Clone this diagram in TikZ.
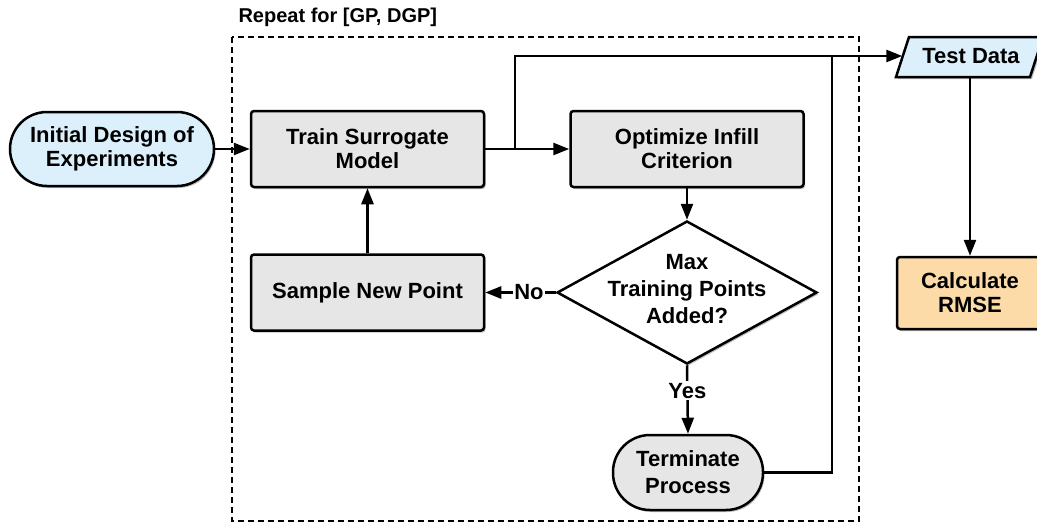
\documentclass[tikz,border=0pt]{standalone}
\usepackage{fontspec}
\setmainfont{Liberation Sans}
\usetikzlibrary{arrows.meta,shadows,shapes.geometric}
\definecolor{boxgray}{HTML}{E6E6E6}
\definecolor{lblue}{HTML}{DCF0FC}
\definecolor{lorange}{HTML}{FCDBA8}
\tikzset{
  every node/.style={font=\bfseries\fontsize{22}{24}\selectfont, align=center, text=black},
  shad/.style={drop shadow={shadow xshift=1.5pt, shadow yshift=-2pt, opacity=0.25, fill=black}},
  procbox/.style={draw, line width=2.5pt, rounded corners=3pt, fill=boxgray, minimum width=233pt, minimum height=76pt, inner sep=0pt, shad},
  termbox/.style={draw, line width=2.5pt, rounded corners=37pt, inner sep=0pt, shad},
  conn/.style={line width=2.5pt, -{Triangle[length=16pt,width=12pt]}},
  plain/.style={line width=2.5pt},
  lbl/.style={fill=white, inner sep=1.5pt},
}
\begin{document}
\begin{tikzpicture}[x=1pt,y=-1pt]
\useasboundingbox (0,0) rectangle (1037,525);
% repeat frame
\draw[line width=1.4pt, dash pattern=on 6pt off 4pt] (232,37) rectangle (859,521);
\node[anchor=west, font=\bfseries\fontsize{20}{22}\selectfont] (rep) at (235,17) {Repeat for [GP, DGP]};
% nodes
\node[termbox, fill=lblue, minimum width=204pt, minimum height=74pt] (init) at (112,149) {Initial Design of\\Experiments};
\node[procbox] (train) at (367.5,149) {Train Surrogate\\Model};
\node[procbox] (opt) at (687,149) {Optimize Infill\\Criterion};
\node[procbox] (samp) at (367.5,292.5) {Sample New Point};
\node[draw, diamond, line width=2.5pt, fill=white, minimum width=260pt, minimum height=143pt, inner sep=0pt, shad] (dec) at (687,292.5) {};
\node[font=\bfseries\fontsize{22}{27}\selectfont] (dect) at (687,289) {Max\\Training Points\\Added?};
\node[termbox, fill=boxgray, minimum width=150pt, minimum height=75pt, font=\bfseries\fontsize{22}{27}\selectfont] (term) at (688,472.5) {Terminate\\Process};
% Test data parallelogram
\fill[black, opacity=0.25] (910.5,39) -- (1045,39) -- (1032,79) -- (897.5,79) -- cycle;
\draw[line width=2.5pt, fill=lblue, line join=miter] (909,37) -- (1043,37) -- (1030,77) -- (896,77) -- cycle;
\node[minimum width=137pt, minimum height=40pt, inner sep=0pt] (td) at (971,56) {Test Data};
\node[procbox, fill=lorange, minimum width=146pt, minimum height=72pt] (rmse) at (970,293) {Calculate\\RMSE};
% connectors
\coordinate (sp) at (515,149);
\coordinate (j2) at (832,57);
\coordinate (tdb) at (970,77);
\draw[conn] (init.east) -- (train.west);
\draw[conn] (train.east) -- (opt.west);
\draw[conn] (sp) |- (td.west);
\draw[plain] (term.east) -| (j2);
\draw[conn] (opt.south) -- (dec.north);
\draw[conn] (dec.west) -- node[lbl, pos=0.38] (no) {No} (samp.east);
\draw[conn] (dec.south) -- node[lbl, pos=0.37] (yes) {Yes} (term.north);
\draw[conn] (samp.north) -- (train.south);
\draw[conn] (tdb) -- (rmse.north);
\end{tikzpicture}
\end{document}
